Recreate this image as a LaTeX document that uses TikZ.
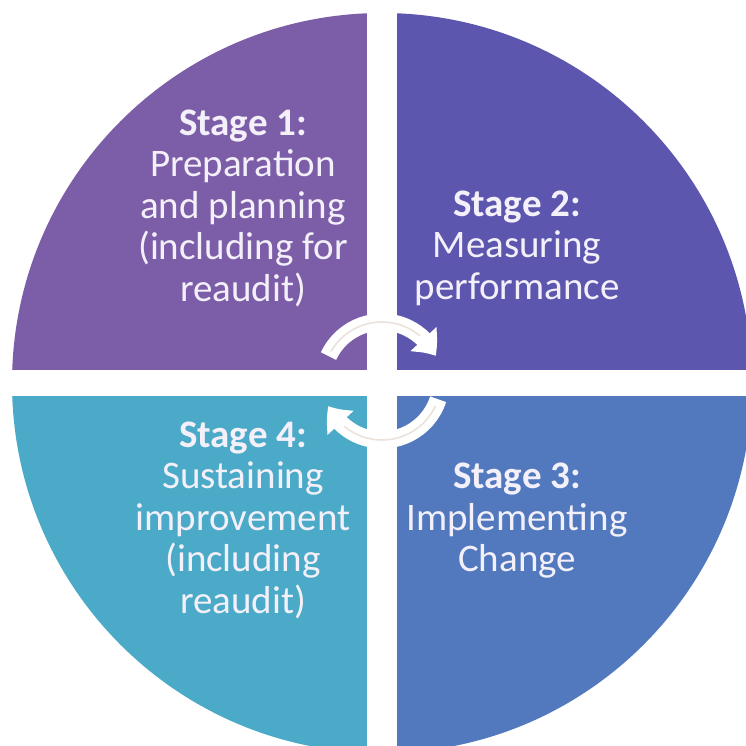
\documentclass[tikz,border=0pt]{standalone}
\usepackage{fontspec}
\setmainfont{Carlito}
\usetikzlibrary{arrows.meta,bending}

\definecolor{stageone}{RGB}{124,94,168}
\definecolor{stagetwo}{RGB}{92,86,174}
\definecolor{stagethree}{RGB}{82,121,190}
\definecolor{stagefour}{RGB}{74,170,199}
\definecolor{labeltext}{RGB}{244,240,250}
\definecolor{cyclestreak}{RGB}{236,226,220}

\tikzset{
  stagelabel/.style={text=labeltext, align=center, inner sep=0pt,
    font=\fontsize{39}{41.5}\selectfont},
  cyclearrow/.style={draw=white, line width=17pt,
    -{Triangle[width=34pt,length=21pt,bend]}},
  cyclecore/.style={draw=cyclestreak, line width=1.6pt}
}

\begin{document}
\begin{tikzpicture}[x=1pt,y=-1pt]
  \useasboundingbox (0,0) rectangle (746,746);
  \fill[white] (0,0) rectangle (746,746);

  % four quadrants of the disc, separated by a white cross
  \begin{scope}
    \clip (382,383) circle [radius=370pt];
    \fill[stageone]   (0,0)     rectangle (367,370);
    \fill[stagetwo]   (397,0)   rectangle (800,370);
    \fill[stagefour]  (0,396)   rectangle (367,800);
    \fill[stagethree] (397,396) rectangle (800,800);
  \end{scope}

  % stage labels
  \node[stagelabel] (s1) at (243,208)
    {\textbf{Stage 1:}\\Preparation\\and planning\\(including for\\reaudit)};
  \node[stagelabel] (s2) at (517,248)
    {\textbf{Stage 2:}\\Measuring\\performance};
  \node[stagelabel] (s3) at (517,521)
    {\textbf{Stage 3:}\\Implementing\\Change};
  \node[stagelabel] (s4) at (243,520)
    {\textbf{Stage 4:}\\Sustaining\\improvement\\(including\\reaudit)};

  % circular arrows at the centre
  \coordinate (hub) at (382,381);
  \draw[cyclearrow] (hub) ++(155:59pt) arc[start angle=155, end angle=25, radius=59pt];
  \draw[cyclearrow] (hub) ++(-18:59pt) arc[start angle=-18, end angle=-155, radius=59pt];
  \draw[cyclecore] (hub) ++(150:59pt) arc[start angle=150, end angle=50, radius=59pt];
  \draw[cyclecore] (hub) ++(-25:59pt) arc[start angle=-25, end angle=-130, radius=59pt];
\end{tikzpicture}
\end{document}
